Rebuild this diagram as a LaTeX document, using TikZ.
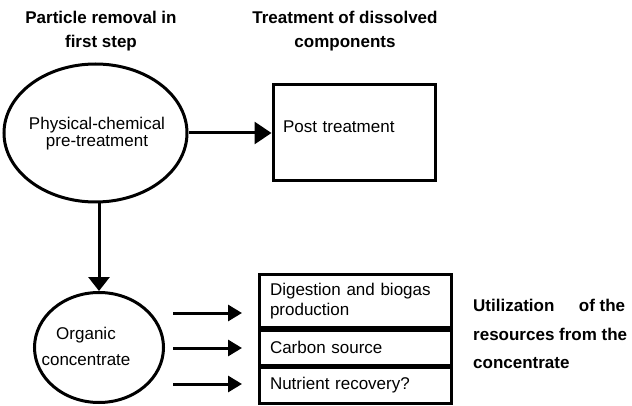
\documentclass[tikz,border=0pt]{standalone}
\usepackage{fontspec}
\setmainfont{Liberation Sans}
\usepackage{tikz}
\usetikzlibrary{calc}
\usetikzlibrary{arrows.meta,shapes.geometric}
\tikzset{
  blob/.style={ellipse,draw=black,line width=3pt,inner sep=0pt},
  box/.style={rectangle,draw=black,line width=3pt,inner xsep=11pt,inner ysep=0pt,
    text width=170pt,align=left,font=\fontsize{17}{20}\selectfont},
  flow/.style={draw=black,line width=3pt,-{Triangle[length=17pt,width=22pt]}},
  flowsm/.style={draw=black,line width=3pt,-{Triangle[length=14pt,width=16pt]}},
  head/.style={font=\bfseries\fontsize{17}{24}\selectfont,align=center,inner sep=0pt,anchor=north},
  txt/.style={font=\fontsize{17}{17}\selectfont,align=center,inner sep=0pt},
}

\begin{document}
\begin{tikzpicture}[x=1pt,y=-1pt]
\useasboundingbox (0,0) rectangle (632,406);
% headings
\node[head] (hpart) at (101,11) {Particle removal in\\first step};
\node[head] (htreat) at (345,11) {Treatment of dissolved\\components};
% first step
\node[blob,minimum width=183pt,minimum height=138pt] (pre) at (95.5,133) {};
\node[txt] (pretxt) at (97,134) {Physical-chemical\\pre-treatment};
\node[box,text width=142pt,inner xsep=10pt,minimum height=96pt,text depth=12pt] (post) at (354,133) {Post treatment};
\draw[flow] (pre.east) -- (post.west);
% concentrate
\node[blob,minimum width=129pt,minimum height=110pt] (conc) at (99,347.5) {};
\node[txt,font=\fontsize{17}{26}\selectfont] (conctxt) at (86,346) {Organic\\concentrate};
\draw[flow,-{Triangle[length=14pt,width=21pt]}] (conc.north |- pre.south) -- (conc.north);
% uses of the concentrate
\node[box,minimum height=52.5pt] (dig) at (355,300.75) {Digestion and biogas\\production};
\node[box,minimum height=35pt] (carb) at (355,347.5) {Carbon source};
\node[box,minimum height=36.5pt] (nutr) at (355,385.25) {Nutrient recovery?};
\coordinate (s1) at (173,313);
\coordinate (t1) at (242,313);
\coordinate (s2) at (173,348);
\coordinate (t2) at (242,348);
\coordinate (s3) at (173,384);
\coordinate (t3) at (242,384);
\draw[flowsm] (s1) -- (t1);
\draw[flowsm] (s2) -- (t2);
\draw[flowsm] (s3) -- (t3);
\node[font=\bfseries\fontsize{17}{28.5}\selectfont,align=left,inner sep=0pt,anchor=north west] (util) at (473,299)
  {\hbox to 152pt{Utilization\hfill of the}\\resources from the\\concentrate};
\end{tikzpicture}
\end{document}
